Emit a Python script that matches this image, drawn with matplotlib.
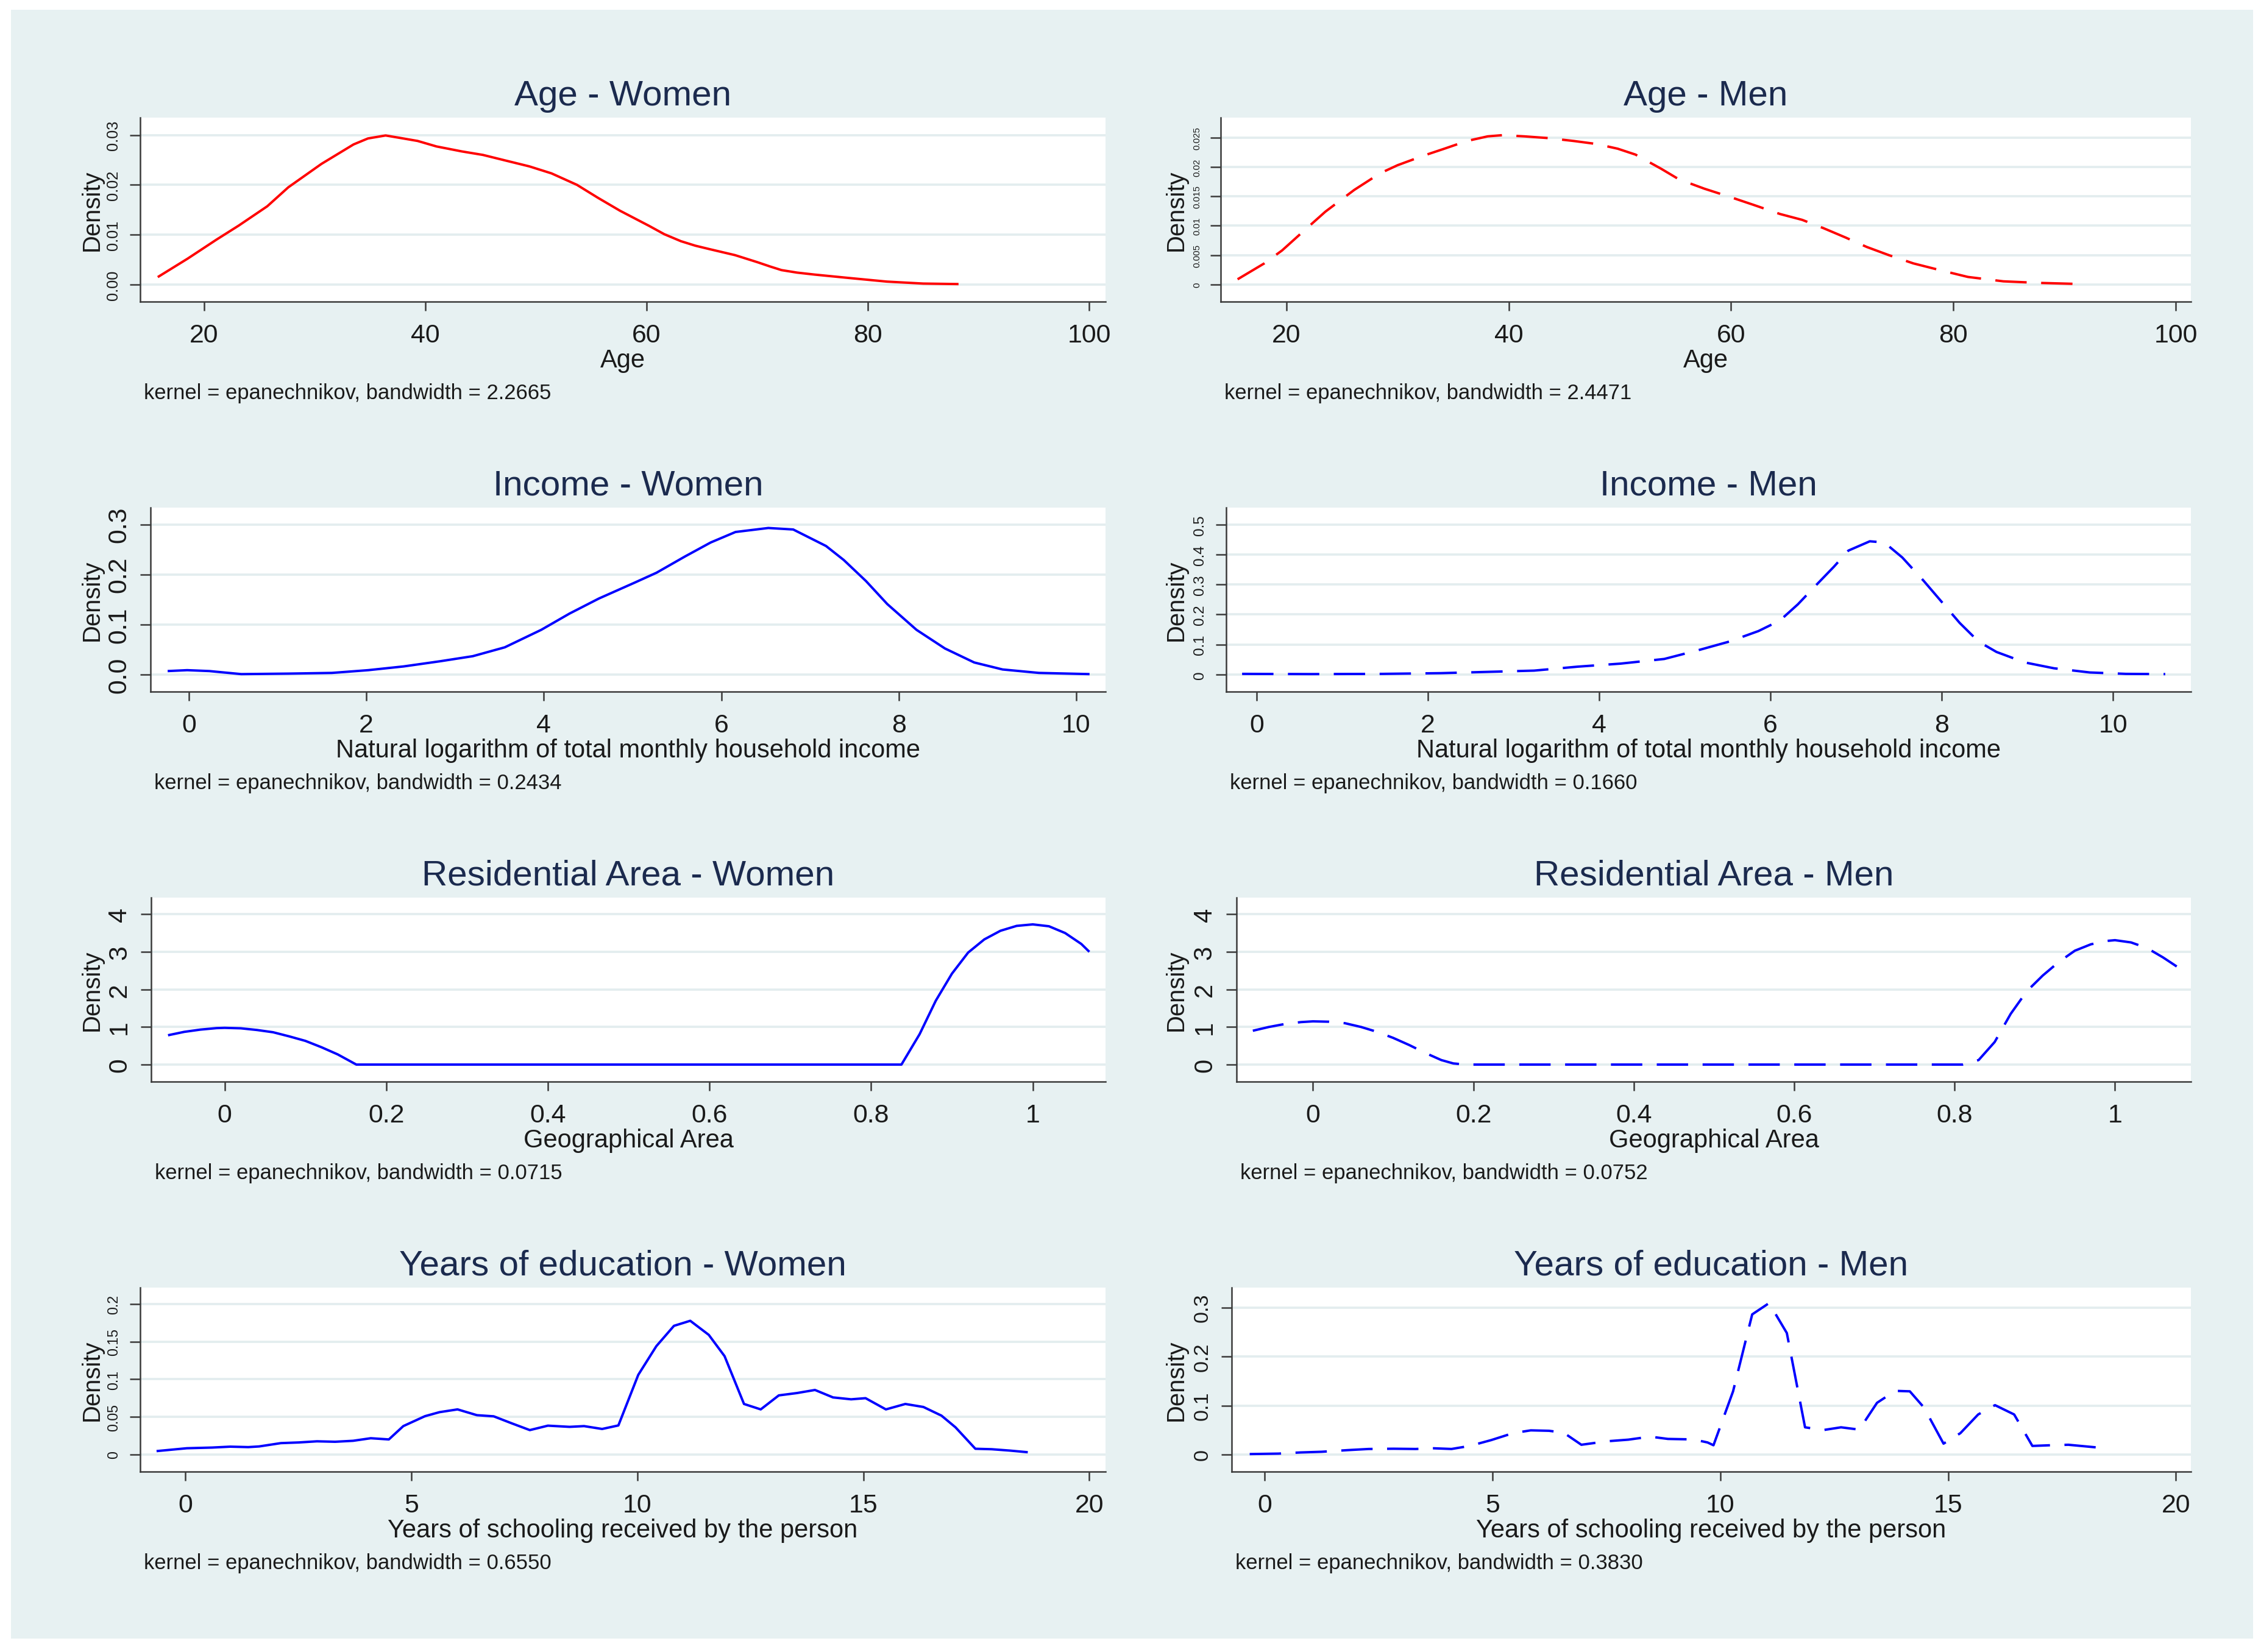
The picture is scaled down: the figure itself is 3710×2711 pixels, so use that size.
import matplotlib
matplotlib.use("Agg")
import matplotlib.pyplot as plt
from matplotlib.patches import Rectangle

plt.rcParams['font.family'] = ['Liberation Sans', 'DejaVu Sans']

# ---------------- data ----------------
age_women_x = [15.8, 18.5, 21.1, 23.1, 25.7, 27.6, 30.6, 33.5, 34.8, 36.4, 38.0, 39.3, 41.0, 43.3,
               45.2, 47.2, 49.4, 51.4, 53.7, 55.6, 57.6, 60.2, 61.6, 63.1, 64.4, 65.7, 68.0, 70.0,
               71.2, 72.2, 73.6, 75.2, 78.4, 81.7, 85.0, 88.2]
age_women_y = [0.0015, 0.0052, 0.0090, 0.0118, 0.0157, 0.0195, 0.0242, 0.0281, 0.0293, 0.0299,
               0.0293, 0.0288, 0.0277, 0.0267, 0.0260, 0.0249, 0.0237, 0.0223, 0.0200, 0.0174,
               0.0148, 0.0118, 0.0101, 0.0087, 0.0078, 0.0071, 0.0059, 0.0045, 0.0036, 0.0029,
               0.0024, 0.0020, 0.0013, 0.0006, 0.0002, 0.0001]

age_men_x = [15.6, 18.0, 19.6, 21.6, 23.5, 26.1, 28.4, 30.0, 32.3, 34.2, 36.2, 38.1, 39.4, 41.4,
             43.6, 45.9, 47.9, 49.8, 51.4, 53.7, 55.3, 57.6, 59.9, 62.1, 64.4, 66.4, 68.3, 70.3,
             72.2, 74.2, 76.4, 78.7, 81.3, 84.5, 87.8, 91.7]
age_men_y = [0.0009, 0.0036, 0.0058, 0.0092, 0.0124, 0.0161, 0.0189, 0.0203, 0.0219, 0.0231,
             0.0244, 0.0252, 0.0254, 0.0252, 0.0249, 0.0244, 0.0239, 0.0231, 0.0221, 0.0197,
             0.0179, 0.0163, 0.0149, 0.0135, 0.0120, 0.0110, 0.0096, 0.0080, 0.0064, 0.0050,
             0.0036, 0.0025, 0.0013, 0.00055, 0.00028, 0.00008]

income_women_x = [-0.24, -0.02, 0.23, 0.59, 1.12, 1.61, 2.02, 2.42, 2.83, 3.20, 3.56, 3.97, 4.29,
                  4.62, 5.02, 5.27, 5.59, 5.88, 6.16, 6.53, 6.81, 7.18, 7.38, 7.63, 7.87, 8.20,
                  8.52, 8.85, 9.17, 9.58, 10.15]
income_women_y = [0.0070, 0.0088, 0.0070, 0.0009, 0.0019, 0.0033, 0.0088, 0.0163, 0.0266, 0.0368,
                  0.0545, 0.0894, 0.122, 0.152, 0.1835, 0.2036, 0.236, 0.264, 0.285, 0.293, 0.290,
                  0.257, 0.229, 0.187, 0.141, 0.0894, 0.0522, 0.0242, 0.0102, 0.0033, 0.0009]

income_men_x = [-0.17, 0.63, 1.47, 2.15, 2.74, 3.24, 3.75, 4.25, 4.76, 5.18, 5.52, 5.86, 6.11,
                6.32, 6.53, 6.74, 6.91, 7.16, 7.33, 7.54, 7.79, 8.00, 8.21, 8.43, 8.64, 8.97,
                9.31, 9.73, 10.15, 10.61]
income_men_y = [0.0023, 0.0016, 0.0023, 0.0047, 0.0093, 0.0132, 0.0264, 0.0365, 0.052, 0.083,
                0.110, 0.145, 0.180, 0.234, 0.297, 0.359, 0.413, 0.444, 0.440, 0.390, 0.312,
                0.242, 0.172, 0.110, 0.0753, 0.0404, 0.021, 0.007, 0.0023, 0.0016]

area_women_x = [-0.07, -0.05, -0.03, -0.01, 0.0, 0.02, 0.04, 0.06, 0.08, 0.10, 0.12, 0.14, 0.163,
                0.8375, 0.86, 0.88, 0.90, 0.92, 0.94, 0.96, 0.98, 1.0, 1.02, 1.04, 1.06, 1.07]
area_women_y = [0.78, 0.87, 0.93, 0.97, 0.977, 0.965, 0.92, 0.86, 0.75, 0.63, 0.46, 0.27, 0.0,
                0.0, 0.81, 1.70, 2.42, 2.98, 3.33, 3.56, 3.69, 3.73, 3.68, 3.50, 3.21, 3.0]

area_men_x = [-0.075, -0.055, -0.035, -0.015, 0.0, 0.02, 0.04, 0.06, 0.08, 0.10, 0.12, 0.14, 0.16,
              0.175, 0.19, 0.81, 0.83, 0.85, 0.87, 0.89, 0.91, 0.93, 0.95, 0.97, 0.99, 1.0, 1.02,
              1.04, 1.06, 1.077]
area_men_y = [0.90, 1.00, 1.08, 1.13, 1.15, 1.14, 1.10, 1.00, 0.87, 0.71, 0.52, 0.31, 0.12, 0.03,
              0.0, 0.0, 0.12, 0.60, 1.35, 1.95, 2.37, 2.73, 3.03, 3.20, 3.29, 3.31, 3.25, 3.10,
              2.85, 2.61]

edu_women_x = [-0.64, 0.03, 0.59, 0.99, 1.39, 1.63, 2.11, 2.51, 2.91, 3.31, 3.71, 4.10, 4.50, 4.82,
               5.30, 5.62, 6.02, 6.45, 6.82, 7.22, 7.62, 8.02, 8.50, 8.82, 9.22, 9.58, 10.02, 10.42,
               10.81, 11.17, 11.58, 11.93, 12.36, 12.73, 13.13, 13.53, 13.93, 14.33, 14.73, 15.05,
               15.50, 15.93, 16.33, 16.73, 17.04, 17.48, 17.84, 18.24, 18.64]
edu_women_y = [0.0046, 0.0084, 0.0093, 0.0105, 0.0099, 0.0108, 0.0152, 0.0161, 0.0176, 0.0170,
               0.0183, 0.0217, 0.0201, 0.0378, 0.0510, 0.0563, 0.0600, 0.0523, 0.0508, 0.0415,
               0.0325, 0.0384, 0.0368, 0.0378, 0.0340, 0.0387, 0.1059, 0.1440, 0.1710, 0.1777,
               0.1590, 0.1307, 0.0672, 0.0600, 0.0786, 0.0817, 0.0858, 0.0759, 0.0734, 0.0749,
               0.0600, 0.0672, 0.0632, 0.0517, 0.0362, 0.0077, 0.0071, 0.0053, 0.0031]

edu_men_x = [-0.33, 0.30, 0.78, 1.25, 1.81, 2.28, 2.83, 3.31, 3.71, 4.10, 4.50, 4.97, 5.45, 5.84,
             6.24, 6.56, 6.95, 7.51, 7.98, 8.46, 8.85, 9.41, 9.72, 9.85, 10.28, 10.70, 11.07,
             11.46, 11.86, 12.26, 12.65, 13.05, 13.44, 13.84, 14.16, 14.47, 14.90, 15.27, 15.66,
             16.03, 16.45, 16.85, 17.24, 17.64, 18.35]
edu_men_y = [0.0010, 0.0019, 0.0043, 0.0057, 0.0090, 0.0114, 0.0119, 0.0114, 0.0128, 0.0114,
             0.0176, 0.0295, 0.0437, 0.0494, 0.0485, 0.0447, 0.0200, 0.0271, 0.0304, 0.0366,
             0.0319, 0.0309, 0.0247, 0.0190, 0.1290, 0.2860, 0.3090, 0.2480, 0.0556, 0.0500,
             0.0556, 0.0509, 0.1056, 0.1300, 0.1290, 0.0960, 0.0223, 0.0437, 0.0818, 0.1008,
             0.0818, 0.0176, 0.0190, 0.0200, 0.0138]

titles = ["Age - Women", "Age - Men", "Income - Women", "Income - Men",
          "Residential Area - Women", "Residential Area - Men",
          "Years of education - Women", "Years of education - Men"]
xlabels = ["Age", "Age",
           "Natural logarithm of total monthly household income",
           "Natural logarithm of total monthly household income",
           "Geographical Area", "Geographical Area",
           "Years of schooling received by the person",
           "Years of schooling received by the person"]
bandwidths = ["2.2665", "2.4471", "0.2434", "0.1660", "0.0715", "0.0752", "0.6550", "0.3830"]

xticks_age = [20, 40, 60, 80, 100]
xticks_income = [0, 2, 4, 6, 8, 10]
xticks_area = [0, 0.2, 0.4, 0.6, 0.8, 1]
xticklabels_area = ["0", "0.2", "0.4", "0.6", "0.8", "1"]
xticks_edu = [0, 5, 10, 15, 20]

yticks_age_w = [0, 0.01, 0.02, 0.03]
yticklabels_age_w = ["0.00", "0.01", "0.02", "0.03"]
yticks_age_m = [0, 0.005, 0.01, 0.015, 0.02, 0.025]
yticklabels_age_m = ["0", "0.005", "0.01", "0.015", "0.02", "0.025"]
yticks_inc_w = [0, 0.1, 0.2, 0.3]
yticklabels_inc_w = ["0.0", "0.1", "0.2", "0.3"]
yticks_inc_m = [0, 0.1, 0.2, 0.3, 0.4, 0.5]
yticklabels_inc_m = ["0", "0.1", "0.2", "0.3", "0.4", "0.5"]
yticks_area = [0, 1, 2, 3, 4]
yticklabels_area = ["0", "1", "2", "3", "4"]
yticks_edu_w = [0, 0.05, 0.1, 0.15, 0.2]
yticklabels_edu_w = ["0", "0.05", "0.1", "0.15", "0.2"]
yticks_edu_m = [0, 0.1, 0.2, 0.3]
yticklabels_edu_m = ["0", "0.1", "0.2", "0.3"]

# ---------------- layout (pixels of the 3711 x 2712 canvas) ----------------
W, H = 3711, 2712
fig = plt.figure(figsize=(W / 300, H / 300), dpi=300, facecolor='white')
BG = '#E7F1F2'
fig.patches.append(Rectangle((18 / W, 1 - 2690 / H), (3697 - 18) / W, (2690 - 17) / H,
                             transform=fig.transFigure, facecolor=BG, edgecolor='none', zorder=0))

def fx(px):
    return px / W

def fy(py):
    return 1 - py / H

RED, BLUE = '#FF0000', '#0000FF'
NAVY = '#1B2A4E'
AXC = '#3A3A3A'
GRID = '#E3EDEF'

panels = [
    dict(x=age_women_x, y=age_women_y, c=RED, dash=False, xt=xticks_age, xtl=None,
         yt=yticks_age_w, ytl=yticklabels_age_w, ys=6.1, L=230, R=1814, xlim=(14.21, 101.49),
         vtop=0.03, T=222.5, col=0, row=0),
    dict(x=age_men_x, y=age_men_y, c=RED, dash=True, xt=xticks_age, xtl=None,
         yt=yticks_age_m, ytl=yticklabels_age_m, ys=3.6, L=2003, R=3595, xlim=(14.08, 101.37),
         vtop=0.025, T=226.7, col=1, row=0),
    dict(x=income_women_x, y=income_women_y, c=BLUE, dash=False, xt=xticks_income, xtl=None,
         yt=yticks_inc_w, ytl=yticklabels_inc_w, ys=10.3, L=247, R=1814, xlim=(-0.433, 10.33),
         vtop=0.3, T=221.7, col=0, row=1),
    dict(x=income_men_x, y=income_men_y, c=BLUE, dash=True, xt=xticks_income, xtl=None,
         yt=yticks_inc_m, ytl=yticklabels_inc_m, ys=5.8, L=2012, R=3595, xlim=(-0.356, 10.91),
         vtop=0.5, T=221.7, col=1, row=1),
    dict(x=area_women_x, y=area_women_y, c=BLUE, dash=False, xt=xticks_area, xtl=xticklabels_area,
         yt=yticks_area, ytl=yticklabels_area, ys=10.3, L=248, R=1814, xlim=(-0.0909, 1.09),
         vtop=4, T=221.3, col=0, row=2),
    dict(x=area_men_x, y=area_men_y, c=BLUE, dash=True, xt=xticks_area, xtl=xticklabels_area,
         yt=yticks_area, ytl=yticklabels_area, ys=10.0, L=2029, R=3595, xlim=(-0.0953, 1.0947),
         vtop=4, T=221.3, col=1, row=2),
    dict(x=edu_women_x, y=edu_women_y, c=BLUE, dash=False, xt=xticks_edu, xtl=None,
         yt=yticks_edu_w, ytl=yticklabels_edu_w, ys=5.6, L=230, R=1814, xlim=(-1.003, 20.36),
         vtop=0.2, T=220.9, col=0, row=3),
    dict(x=edu_men_x, y=edu_men_y, c=BLUE, dash=True, xt=xticks_edu, xtl=None,
         yt=yticks_edu_m, ytl=yticklabels_edu_m, ys=8.2, L=2021, R=3595, xlim=(-0.726, 20.33),
         vtop=0.3, T=226.7, col=1, row=3),
]

TOP, Y0, BOT = 194.0, 468.0, 496.0
ROWSTEP = 640.0
LW = 0.95

for i, p in enumerate(panels):
    r = p['row'] * ROWSTEP
    L, R = p['L'], p['R']
    ax = fig.add_axes([fx(L), fy(BOT + r), (R - L) / W, (BOT - TOP) / H])
    ax.set_facecolor('white')
    ax.set_zorder(2)
    span = Y0 - p['T']
    ylo = -(BOT - Y0) / span * p['vtop']
    yhi = p['vtop'] + (p['T'] - TOP) / span * p['vtop']
    ax.set_xlim(*p['xlim'])
    ax.set_ylim(ylo, yhi)

    kw = dict(color=p['c'], lw=LW, solid_joinstyle='round', solid_capstyle='butt', zorder=3)
    if p['dash']:
        ax.plot(p['x'], p['y'], dashes=(13, 6), dash_capstyle='butt', **kw)
    else:
        ax.plot(p['x'], p['y'], **kw)

    for s in ['top', 'right']:
        ax.spines[s].set_visible(False)
    for s in ['left', 'bottom']:
        ax.spines[s].set_color(AXC)
        ax.spines[s].set_linewidth(0.6)

    ax.set_xticks(p['xt'])
    if p['xtl'] is not None:
        ax.set_xticklabels(p['xtl'])
    ax.set_yticks(p['yt'])
    ax.set_yticklabels(p['ytl'], rotation=90, va='center', fontsize=p['ys'], color='#1a1a1a')
    ax.tick_params(axis='x', length=3.6, width=0.6, color=AXC, pad=4.7,
                   labelsize=10.3, labelcolor='#1a1a1a')
    ax.tick_params(axis='y', length=4.0, width=0.6, color=AXC, pad=3.7)
    ax.yaxis.grid(True, color=GRID, lw=0.9)
    ax.set_axisbelow(True)

    cx = (L + R) / 2
    fig.text(fx(cx), fy(172.7 + r), titles[i], ha='center', va='baseline',
             fontsize=14, color=NAVY)
    fig.text(fx(cx), fy(603 + r), xlabels[i], ha='center', va='baseline',
             fontsize=10, color='#1a1a1a')
    fig.text(fx(L + 6), fy(655 + r),
             "kernel = epanechnikov, bandwidth = " + bandwidths[i],
             ha='left', va='baseline', fontsize=8.3, color='#1a1a1a')
    dens_x = 151 if p['col'] == 0 else 1930
    fig.text(fx(dens_x), fy(345 + r), "Density", rotation=90, ha='center', va='center',
             fontsize=9.6, color='#1a1a1a')

fig.savefig('out.png', dpi=300, facecolor='white')
